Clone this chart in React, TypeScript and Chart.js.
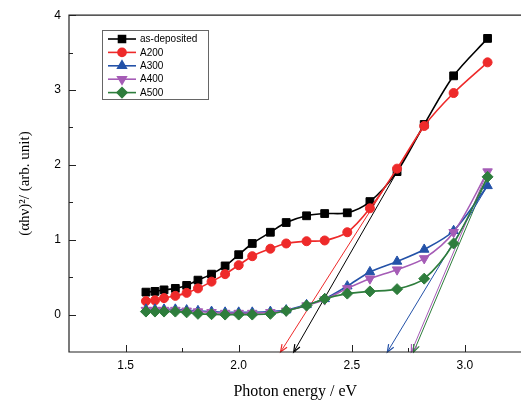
import React, { useEffect, useRef } from 'react';
import { Chart, registerables } from 'chart.js';
import { drawPoint } from 'chart.js/helpers';

Chart.register(...registerables);

// ---- data ----
const energy = [1.59, 1.63, 1.67, 1.72, 1.77, 1.82, 1.88, 1.94, 2.0, 2.06, 2.14, 2.21, 2.3, 2.38, 2.48, 2.58, 2.7, 2.82, 2.95, 3.1];
const asDeposited = [0.3, 0.31, 0.33, 0.35, 0.39, 0.46, 0.54, 0.65, 0.8, 0.95, 1.1, 1.23, 1.32, 1.35, 1.36, 1.51, 1.91, 2.54, 3.19, 3.69];
const a200 = [0.18, 0.19, 0.22, 0.25, 0.29, 0.35, 0.44, 0.54, 0.66, 0.78, 0.88, 0.95, 0.98, 0.99, 1.1, 1.42, 1.95, 2.52, 2.96, 3.37];
const a300 = [0.07, 0.07, 0.07, 0.07, 0.06, 0.05, 0.04, 0.03, 0.03, 0.03, 0.04, 0.06, 0.13, 0.21, 0.38, 0.57, 0.71, 0.87, 1.12, 1.72];
const a400 = [0.06, 0.06, 0.06, 0.06, 0.05, 0.04, 0.03, 0.02, 0.02, 0.02, 0.03, 0.05, 0.12, 0.2, 0.35, 0.48, 0.6, 0.75, 1.1, 1.91];
const a500 = [0.04, 0.04, 0.04, 0.04, 0.03, 0.01, 0.005, 0.0, 0.0, 0.0, 0.01, 0.05, 0.12, 0.21, 0.28, 0.31, 0.34, 0.48, 0.95, 1.84];

const seriesLabels = ['as-deposited', 'A200', 'A300', 'A400', 'A500'];
const seriesValues = [asDeposited, a200, a300, a400, a500];
const seriesColors = ['#000000', '#ee2a2a', '#2452a8', '#a55cb6', '#2e7d3c'];
const seriesPointStyles = ['rect', 'circle', 'triangle', 'triangle', 'rectRot'];
const seriesPointRotation = [0, 0, 0, 180, 0];
const seriesPointRadius = [5.5, 4.5, 5.5, 5.5, 5.5];

// linear extrapolation lines (lower end at the axis, arrow there)
const tangentAsDeposited = [{ x: 2.243, y: -0.5 }, { x: 2.82, y: 2.54 }];
const tangentA200 = [{ x: 2.185, y: -0.5 }, { x: 2.82, y: 2.52 }];
const tangentA300 = [{ x: 2.657, y: -0.5 }, { x: 3.1, y: 1.72 }];
const tangentA400 = [{ x: 2.763, y: -0.5 }, { x: 3.1, y: 1.91 }];
const tangentA500 = [{ x: 2.773, y: -0.5 }, { x: 3.1, y: 1.84 }];
const tangents = [tangentAsDeposited, tangentA200, tangentA300, tangentA400, tangentA500];

const xMajorTicks = [1.5, 2.0, 2.5, 3.0];
const xMinorTicks = [1.75, 2.25, 2.75, 3.25];
const yMajorTicks = [0, 1, 2, 3, 4];
const yMinorTicks = [0.5, 1.5, 2.5, 3.5];

const SANS = "'Liberation Sans', Arial, sans-serif";
const SERIF = "'Liberation Serif', 'Times New Roman', serif";

const framePlugin = {
  id: 'frameTicks',
  afterDraw(chart: any) {
    const { ctx, chartArea } = chart;
    const { left, top, right, bottom } = chartArea;
    const xs = chart.scales.x;
    const ys = chart.scales.y;
    ctx.save();
    ctx.strokeStyle = '#222';
    ctx.lineWidth = 1.2;
    ctx.beginPath();
    ctx.moveTo(right, top);
    ctx.lineTo(left, top);
    ctx.lineTo(left, bottom);
    ctx.lineTo(right, bottom);
    ctx.stroke();
    ctx.lineWidth = 1;
    ctx.beginPath();
    xMajorTicks.forEach((v) => {
      const p = Math.round(xs.getPixelForValue(v)) + 0.5;
      ctx.moveTo(p, bottom);
      ctx.lineTo(p, bottom - 7);
    });
    xMinorTicks.forEach((v) => {
      const p = Math.round(xs.getPixelForValue(v)) + 0.5;
      ctx.moveTo(p, bottom);
      ctx.lineTo(p, bottom - 4);
    });
    yMajorTicks.forEach((v) => {
      const p = Math.round(ys.getPixelForValue(v)) + 0.5;
      ctx.moveTo(left, p);
      ctx.lineTo(left + 7, p);
    });
    yMinorTicks.forEach((v) => {
      const p = Math.round(ys.getPixelForValue(v)) + 0.5;
      ctx.moveTo(left, p);
      ctx.lineTo(left + 4, p);
    });
    ctx.stroke();
    ctx.restore();
  },
};

const arrowPlugin = {
  id: 'arrows',
  afterDatasetsDraw(chart: any) {
    const { ctx } = chart;
    chart.data.datasets.forEach((ds: any, i: number) => {
      if (!ds.isTangent) return;
      const meta = chart.getDatasetMeta(i);
      const p0 = meta.data[0];
      const p1 = meta.data[1];
      const ang = Math.atan2(p0.y - p1.y, p0.x - p1.x);
      const len = 8;
      const spread = 0.38;
      ctx.save();
      ctx.strokeStyle = ds.borderColor;
      ctx.lineWidth = 1.2;
      ctx.beginPath();
      ctx.moveTo(p0.x - len * Math.cos(ang - spread), p0.y - len * Math.sin(ang - spread));
      ctx.lineTo(p0.x, p0.y);
      ctx.lineTo(p0.x - len * Math.cos(ang + spread), p0.y - len * Math.sin(ang + spread));
      ctx.stroke();
      ctx.restore();
    });
  },
};

const legendPlugin = {
  id: 'boxLegend',
  afterDraw(chart: any) {
    const { ctx } = chart;
    const bx = 102.5, by = 30.5, bw = 106, bh = 69;
    ctx.save();
    ctx.strokeStyle = '#666';
    ctx.lineWidth = 1;
    ctx.strokeRect(bx, by, bw, bh);
    ctx.font = `10px ${SANS}`;
    ctx.textBaseline = 'middle';
    ctx.textAlign = 'left';
    seriesLabels.forEach((label, i) => {
      const y = 39 + i * 13.4;
      ctx.strokeStyle = seriesColors[i];
      ctx.fillStyle = seriesColors[i];
      ctx.lineWidth = 1.6;
      ctx.beginPath();
      ctx.moveTo(108, y);
      ctx.lineTo(136, y);
      ctx.stroke();
      drawPoint(ctx, {
        pointStyle: seriesPointStyles[i],
        rotation: seriesPointRotation[i],
        radius: seriesPointRadius[i] * 0.9,
        borderWidth: 1,
      } as any, 122, y);
      ctx.fillStyle = '#000';
      ctx.fillText(label, 140, y + 0.5);
    });
    ctx.restore();
  },
};

export default function App() {
  const ref = useRef<HTMLCanvasElement | null>(null);
  useEffect(() => {
    if (!ref.current) return;
    Chart.defaults.color = '#000';
    const seriesSets = seriesLabels.map((label, i) => ({
      label,
      data: energy.map((x, k) => ({ x, y: seriesValues[i][k] })),
      borderColor: seriesColors[i],
      backgroundColor: seriesColors[i],
      pointBackgroundColor: seriesColors[i],
      pointBorderColor: seriesColors[i],
      pointStyle: seriesPointStyles[i],
      pointRotation: seriesPointRotation[i],
      pointRadius: seriesPointRadius[i],
      pointBorderWidth: 1,
      borderWidth: 1.6,
      tension: 0.3,
      order: 5 - i,
    }));
    const tangentSets = tangents.map((t, i) => ({
      label: seriesLabels[i] + ' fit',
      data: t,
      borderColor: seriesColors[i],
      borderWidth: 1,
      pointRadius: 0,
      tension: 0,
      isTangent: true,
      order: 10,
    }));
    const chart = new Chart(ref.current, {
      type: 'line',
      data: { datasets: [...seriesSets, ...tangentSets] as any },
      options: {
        animation: false,
        responsive: false,
        layout: { padding: { top: 11, left: 0, right: 0, bottom: 0 } },
        plugins: { legend: { display: false }, tooltip: { enabled: false } },
        scales: {
          x: {
            type: 'linear',
            min: 1.25,
            max: 3.25,
            grid: { display: false, drawTicks: false },
            border: { display: false },
            afterBuildTicks: (s: any) => {
              s.ticks = xMajorTicks.map((v) => ({ value: v }));
            },
            afterFit: (s: any) => {
              s.height = 51;
            },
            ticks: {
              padding: 6,
              font: { family: SANS, size: 12 },
              color: '#000',
              callback: (v: any) => Number(v).toFixed(1),
              maxRotation: 0,
            },
            title: {
              display: true,
              text: 'Photon energy / eV',
              font: { family: SERIF, size: 16 },
              color: '#000',
              padding: { top: 0, bottom: 2 },
            },
          },
          y: {
            type: 'linear',
            min: -0.5,
            max: 4,
            grid: { display: false, drawTicks: false },
            border: { display: false },
            afterBuildTicks: (s: any) => {
              s.ticks = yMajorTicks.map((v) => ({ value: v }));
            },
            afterFit: (s: any) => {
              s.width = 69;
            },
            ticks: {
              padding: 8,
              font: { family: SANS, size: 12 },
              color: '#000',
              callback: (v: any) => String(v),
            },
            title: {
              display: true,
              text: '(αhν)²/ (arb. unit)',
              font: { family: SERIF, size: 15 },
              color: '#000',
              padding: { top: 16, bottom: 0 },
            },
          },
        },
      } as any,
      plugins: [framePlugin, arrowPlugin, legendPlugin],
    });
    return () => chart.destroy();
  }, []);
  return (
    <div style={{ position: 'fixed', left: 0, top: 0, width: 521, height: 403, overflow: 'hidden', background: '#fff' }}>
      <canvas ref={ref} width={528} height={403} style={{ display: 'block', width: 528, height: 403 }} />
    </div>
  );
}
